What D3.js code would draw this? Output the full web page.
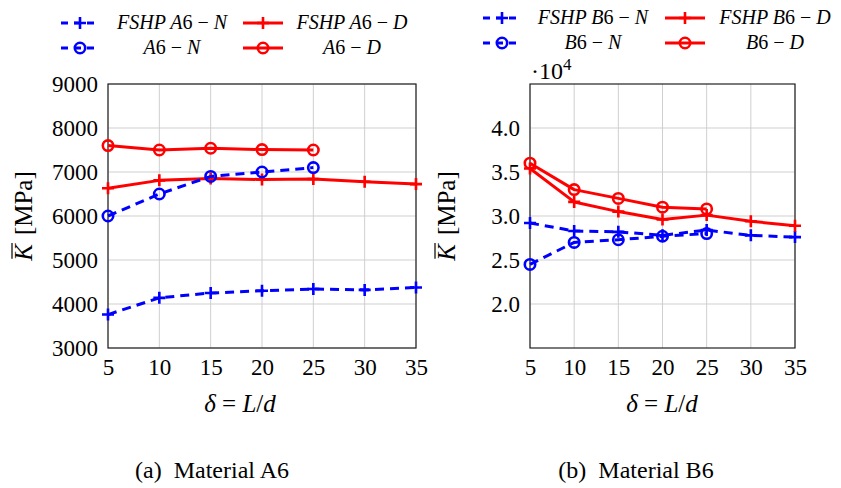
<!DOCTYPE html>
<html><head><meta charset="utf-8"><script src="https://cdn.jsdelivr.net/npm/d3@7"></script></head>
<body style="margin:0">
<svg id="fig" width="841" height="488"></svg>
<script>
// x values (delta = L/d)
const deltaFshp = [5, 10, 15, 20, 25, 30, 35];
const deltaExp = [5, 10, 15, 20, 25];
const xTicks = [5, 10, 15, 20, 25, 30, 35];

// Material A6 [MPa]
const fshpA6N = [3760, 4140, 4250, 4300, 4340, 4320, 4375];
const fshpA6D = [6630, 6810, 6850, 6830, 6840, 6780, 6725];
const a6N = [6000, 6500, 6900, 7000, 7100];
const a6D = [7600, 7500, 7540, 7510, 7500];
const yTicksA = [3000, 4000, 5000, 6000, 7000, 8000, 9000];

// Material B6 [MPa x 10^4]
const fshpB6N = [2.92, 2.83, 2.82, 2.78, 2.84, 2.78, 2.76];
const fshpB6D = [3.54, 3.16, 3.05, 2.96, 3.01, 2.94, 2.89];
const b6N = [2.45, 2.70, 2.73, 2.77, 2.80];
const b6D = [3.60, 3.30, 3.20, 3.10, 3.08];
const yTicksB = [2.0, 2.5, 3.0, 3.5, 4.0];

const FONT = "Liberation Serif";
const svg = d3.select("#fig");
const BLUE = "#0000ff", RED = "#ff0000";

function drawMarker(g, type, x, y, color) {
    if (type === "plus") {
        g.append("path")
            .attr("d", `M${x - 6},${y}H${x + 6}M${x},${y - 6}V${y + 6}`)
            .attr("stroke", color).attr("stroke-width", 2.6).attr("fill", "none");
    } else {
        g.append("circle")
            .attr("cx", x).attr("cy", y).attr("r", 5.2)
            .attr("stroke", color).attr("stroke-width", 2.6).attr("fill", "none");
    }
}

// math-ish label: parts = [[text, italic], ...]
function mathText(sel, parts) {
    parts.forEach(([t, it]) => {
        sel.append("tspan").text(t).attr("font-family", FONT).attr("font-style", it ? "italic" : "normal");
    });
}

function drawPanel(cfg) {
    const g = svg.append("g");
    const x = d3.scaleLinear().domain([5, 35]).range([cfg.left, cfg.left + cfg.width]);
    const y = d3.scaleLinear().domain(cfg.yDomain).range([cfg.top + cfg.height, cfg.top]);

    // grid
    g.append("g").selectAll("line").data(xTicks).join("line")
        .attr("x1", d => x(d)).attr("x2", d => x(d))
        .attr("y1", cfg.top).attr("y2", cfg.top + cfg.height)
        .attr("stroke", "#cfcfcf").attr("stroke-width", 1);
    g.append("g").selectAll("line").data(cfg.yTicks).join("line")
        .attr("x1", cfg.left).attr("x2", cfg.left + cfg.width)
        .attr("y1", d => y(d)).attr("y2", d => y(d))
        .attr("stroke", "#cfcfcf").attr("stroke-width", 1);

    // axes
    const xAxis = g.append("g")
        .attr("transform", `translate(0,${cfg.top + cfg.height})`)
        .call(d3.axisBottom(x).tickValues(xTicks).tickSize(0).tickPadding(10).tickFormat(d3.format("d")));
    const yAxis = g.append("g")
        .attr("transform", `translate(${cfg.left},0)`)
        .call(d3.axisLeft(y).tickValues(cfg.yTicks).tickSize(0).tickPadding(10).tickFormat(cfg.fmt));
    [xAxis, yAxis].forEach(a => {
        a.select(".domain").remove();
        a.attr("font-family", FONT).attr("font-size", 23);
        a.selectAll("text").attr("fill", "#000").attr("font-family", FONT);
    });
    xAxis.selectAll("text").attr("dy", "0.72em");

    g.append("rect")
        .attr("x", cfg.left).attr("y", cfg.top)
        .attr("width", cfg.width).attr("height", cfg.height)
        .attr("fill", "none").attr("stroke", "#222").attr("stroke-width", 1.2);

    // series
    const line = d3.line().x(d => x(d[0])).y(d => y(d[1]));
    cfg.series.forEach(s => {
        const pts = s.xs.map((v, i) => [v, s.ys[i]]);
        g.append("path").attr("d", line(pts))
            .attr("fill", "none").attr("stroke", s.color).attr("stroke-width", 3)
            .attr("stroke-dasharray", s.dash ? "9,6" : null)
            .attr("stroke-linejoin", "round");
        pts.forEach(p => drawMarker(g, s.mark, x(p[0]), y(p[1]), s.color));
    });

    // y label (K with overline [MPa])
    const yl = g.append("g").attr("transform", `translate(${cfg.ylabelX},${cfg.top + cfg.height / 2}) rotate(-90)`);
    const tk = yl.append("text").attr("font-family", FONT).attr("font-size", 25)
        .attr("font-style", "italic").text("K");
    const tm = yl.append("text").attr("font-family", FONT).attr("font-size", 25).text("[MPa]");
    const wk = tk.node().getComputedTextLength();
    const wm = tm.node().getComputedTextLength();
    const gap = 9;
    const x0 = -(wk + gap + wm) / 2;
    tk.attr("x", x0).attr("y", 8);
    tm.attr("x", x0 + wk + gap).attr("y", 8);
    yl.append("line").attr("x1", x0 + 2).attr("x2", x0 + wk + 1)
        .attr("y1", -12).attr("y2", -12).attr("stroke", "#000").attr("stroke-width", 1.2);

    // x label
    const xl = g.append("text").attr("x", cfg.xlabelX).attr("y", cfg.top + cfg.height + 64)
        .attr("font-family", FONT).attr("text-anchor", "middle").attr("font-size", 25);
    mathText(xl, [["\u03b4", true], [" = ", false], ["L", true], ["/", false], ["d", true]]);

    // caption
    const cap = g.append("text").attr("x", cfg.captionX).attr("y", 478)
        .attr("font-family", FONT).attr("text-anchor", "middle").attr("font-size", 24);
    cap.append("tspan").attr("font-family", FONT).text(cfg.caption[0]);
    cap.append("tspan").attr("font-family", FONT).attr("dx", 12).text(cfg.caption[1]);

    // legend
    cfg.series.forEach((s, i) => {
        const col = i % 2, row = Math.floor(i / 2);
        const ly = cfg.legendY + row * 25;
        const lx = cfg.legendX[col];
        g.append("path").attr("d", `M${lx - 20},${ly}H${lx + 20}`)
            .attr("stroke", s.color).attr("stroke-width", 3)
            .attr("stroke-dasharray", s.dash ? "7,6" : null)
            .attr("stroke-dashoffset", s.dash ? -1 : null);
        drawMarker(g, s.mark, lx, ly, s.color);
        const t = g.append("text").attr("x", cfg.legendTextX[col]).attr("y", ly + 6)
            .attr("font-family", FONT).attr("text-anchor", "middle")
            .attr("font-size", 20);
        mathText(t, s.label);
    });
}

drawPanel({
    left: 108, top: 84, width: 308, height: 264,
    yDomain: [3000, 9000], yTicks: yTicksA, fmt: d3.format("d"),
    ylabelX: 24, xlabelX: 240, captionX: 212, caption: ["(a)", "Material A6"],
    legendX: [80, 263], legendTextX: [172, 352], legendY: 23,
    series: [
        { xs: deltaFshp, ys: fshpA6N, color: BLUE, dash: true, mark: "plus",
          label: [["FSHP A", true], ["6 \u2212 ", false], ["N", true]] },
        { xs: deltaFshp, ys: fshpA6D, color: RED, dash: false, mark: "plus",
          label: [["FSHP A", true], ["6 \u2212 ", false], ["D", true]] },
        { xs: deltaExp, ys: a6N, color: BLUE, dash: true, mark: "circle",
          label: [["A", true], ["6 \u2212 ", false], ["N", true]] },
        { xs: deltaExp, ys: a6D, color: RED, dash: false, mark: "circle",
          label: [["A", true], ["6 \u2212 ", false], ["D", true]] }
    ]
});

drawPanel({
    left: 530, top: 84, width: 265, height: 264,
    yDomain: [1.5, 4.5], yTicks: yTicksB, fmt: d3.format(".1f"),
    ylabelX: 447, xlabelX: 662, captionX: 636, caption: ["(b)", "Material B6"],
    legendX: [502, 685], legendTextX: [593, 775], legendY: 18,
    series: [
        { xs: deltaFshp, ys: fshpB6N, color: BLUE, dash: true, mark: "plus",
          label: [["FSHP B", true], ["6 \u2212 ", false], ["N", true]] },
        { xs: deltaFshp, ys: fshpB6D, color: RED, dash: false, mark: "plus",
          label: [["FSHP B", true], ["6 \u2212 ", false], ["D", true]] },
        { xs: deltaExp, ys: b6N, color: BLUE, dash: true, mark: "circle",
          label: [["B", true], ["6 \u2212 ", false], ["N", true]] },
        { xs: deltaExp, ys: b6D, color: RED, dash: false, mark: "circle",
          label: [["B", true], ["6 \u2212 ", false], ["D", true]] }
    ]
});

// scale factor for panel (b)
const sf = svg.append("text").attr("x", 531).attr("y", 79)
    .attr("font-family", FONT).attr("font-size", 24);
sf.append("tspan").attr("font-family", FONT).text("\u00b710");
sf.append("tspan").attr("font-family", FONT).text("4").attr("font-size", 17).attr("dy", -9);
</script>
</body></html>
